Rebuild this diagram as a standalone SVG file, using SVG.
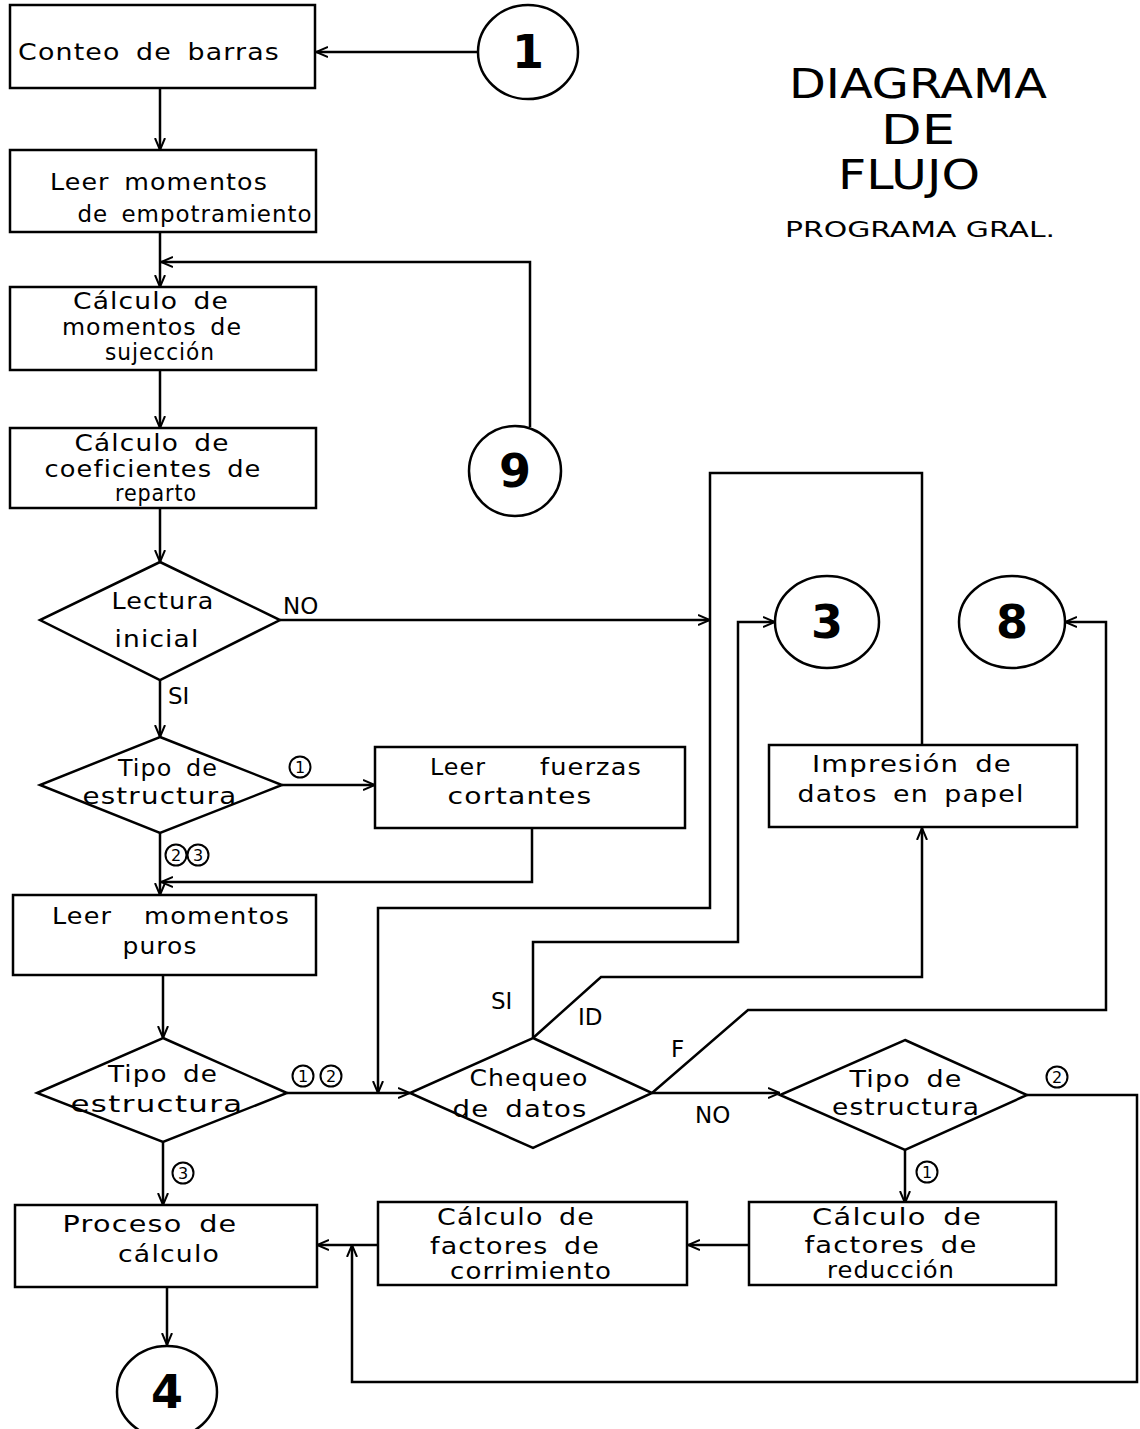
<svg xmlns="http://www.w3.org/2000/svg" width="1140" height="1429" viewBox="0 0 1140 1429">
<style>
.box{fill:#fff;stroke:#000;stroke-width:2.5}
.t{font-family:"DejaVu Sans","Liberation Sans",sans-serif;font-size:23px;fill:#000;text-anchor:middle;letter-spacing:1px;word-spacing:5px}
.lb{font-family:"DejaVu Sans","Liberation Sans",sans-serif;font-size:23px;fill:#000}
.num{font-family:"DejaVu Sans","Liberation Sans",sans-serif;font-size:46px;font-weight:bold;fill:#000;text-anchor:middle}
.cn{fill:none;stroke:#000;stroke-width:2}
.cd{font-family:"DejaVu Sans","Liberation Sans",sans-serif;font-size:16px;fill:#000;text-anchor:middle}
.ln{fill:none;stroke:#000;stroke-width:2.5;stroke-linejoin:miter}
.title{font-family:"DejaVu Sans","Liberation Sans",sans-serif;fill:#000;text-anchor:middle}
</style>
<defs>
<marker id="arr" viewBox="0 0 12 12" refX="12" refY="6" markerWidth="12" markerHeight="12" markerUnits="userSpaceOnUse" orient="auto">
<path d="M0,1 L12,6 L0,11" fill="none" stroke="#000" stroke-width="2"/>
</marker>
</defs>
<rect width="1140" height="1429" fill="#fff"/>

<g id="connectors">
<path class="ln" d="M478,52 L316,52" marker-end="url(#arr)"/>
<path class="ln" d="M160,88 L160,150" marker-end="url(#arr)"/>
<path class="ln" d="M160,232 L160,287" marker-end="url(#arr)"/>
<path class="ln" d="M530,427 L530,262 L161,262" marker-end="url(#arr)"/>
<path class="ln" d="M160,370 L160,428" marker-end="url(#arr)"/>
<path class="ln" d="M160,508 L160,562" marker-end="url(#arr)"/>
<path class="ln" d="M280,620 L710,620" marker-end="url(#arr)"/>
<path class="ln" d="M160,680 L160,737" marker-end="url(#arr)"/>
<path class="ln" d="M282,785 L375,785" marker-end="url(#arr)"/>
<path class="ln" d="M160,833 L160,895" marker-end="url(#arr)"/>
<path class="ln" d="M532,828 L532,882 L161,882" marker-end="url(#arr)"/>
<path class="ln" d="M163,975 L163,1038" marker-end="url(#arr)"/>
<path class="ln" d="M287,1093 L410,1093" marker-end="url(#arr)"/>
<path class="ln" d="M163,1142 L163,1205" marker-end="url(#arr)"/>
<path class="ln" d="M167,1287 L167,1345" marker-end="url(#arr)"/>
<path class="ln" d="M922,745 L922,473 L710,473 L710,908 L378,908 L378,1093" marker-end="url(#arr)"/>
<path class="ln" d="M533,1038 L533,942 L738,942 L738,622 L775,622" marker-end="url(#arr)"/>
<path class="ln" d="M533,1038 L601,977 L922,977 L922,828" marker-end="url(#arr)"/>
<path class="ln" d="M652,1093 L748,1010 L1106,1010 L1106,622 L1065,622" marker-end="url(#arr)"/>
<path class="ln" d="M652,1093 L780,1093" marker-end="url(#arr)"/>
<path class="ln" d="M905,1150 L905,1203" marker-end="url(#arr)"/>
<path class="ln" d="M1027,1095 L1137,1095 L1137,1382 L352,1382 L352,1245" marker-end="url(#arr)"/>
<path class="ln" d="M749,1245 L688,1245" marker-end="url(#arr)"/>
<path class="ln" d="M378,1245 L317,1245" marker-end="url(#arr)"/>
<!-- labels -->
<text class="lb" x="283" y="614">NO</text>
<text class="lb" x="168" y="704">SI</text>
<text class="lb" x="491" y="1009">SI</text>
<text class="lb" x="578" y="1025">ID</text>
<text class="lb" x="671" y="1057">F</text>
<text class="lb" x="695" y="1123">NO</text>
<circle class="cn" cx="300" cy="767" r="10.5"/><text class="cd" x="300" y="773">1</text>
<circle class="cn" cx="176" cy="855" r="10.5"/><text class="cd" x="176" y="861">2</text>
<circle class="cn" cx="198" cy="855" r="10.5"/><text class="cd" x="198" y="861">3</text>
<circle class="cn" cx="303" cy="1076" r="10.5"/><text class="cd" x="303" y="1082">1</text>
<circle class="cn" cx="331" cy="1076" r="10.5"/><text class="cd" x="331" y="1082">2</text>
<circle class="cn" cx="183" cy="1173" r="10.5"/><text class="cd" x="183" y="1179">3</text>
<circle class="cn" cx="1057" cy="1077" r="10.5"/><text class="cd" x="1057" y="1083">2</text>
<circle class="cn" cx="927" cy="1172" r="10.5"/><text class="cd" x="927" y="1178">1</text>
</g>

<g id="title">
<text class="title" x="918" y="98" font-size="40" textLength="258" lengthAdjust="spacingAndGlyphs">DIAGRAMA</text>
<text class="title" x="918" y="144" font-size="40" textLength="74" lengthAdjust="spacingAndGlyphs">DE</text>
<text class="title" x="909" y="189" font-size="40" textLength="142" lengthAdjust="spacingAndGlyphs">FLUJO</text>
<text class="title" x="920" y="237" font-size="21" textLength="270" lengthAdjust="spacingAndGlyphs">PROGRAMA GRAL.</text>
</g>

<g id="c1"><ellipse class="box" cx="528" cy="52" rx="50" ry="47"/><text class="num" x="528" y="68">1</text></g>
<g id="c9"><ellipse class="box" cx="515" cy="471" rx="46" ry="45"/><text class="num" x="515" y="487">9</text></g>
<g id="c3"><ellipse class="box" cx="827" cy="622" rx="52" ry="46"/><text class="num" x="827" y="638">3</text></g>
<g id="c8"><ellipse class="box" cx="1012" cy="622" rx="53" ry="46"/><text class="num" x="1012" y="638">8</text></g>
<g id="c4"><ellipse class="box" cx="167" cy="1392" rx="50" ry="46"/><text class="num" x="167" y="1408">4</text></g>

<g id="conteo"><rect class="box" x="10" y="5" width="305" height="83"/>
<text class="t" x="149" y="60" textLength="262" lengthAdjust="spacingAndGlyphs">Conteo de barras</text></g>

<g id="leer-emp"><rect class="box" x="10" y="150" width="306" height="82"/>
<text class="t" x="159" y="190" textLength="218" lengthAdjust="spacingAndGlyphs">Leer momentos</text>
<text class="t" x="195" y="222" textLength="235" lengthAdjust="spacingAndGlyphs">de empotramiento</text></g>

<g id="calc-suj"><rect class="box" x="10" y="287" width="306" height="83"/>
<text class="t" x="151" y="309" textLength="156" lengthAdjust="spacingAndGlyphs">Cálculo de</text>
<text class="t" x="152" y="335" textLength="180" lengthAdjust="spacingAndGlyphs">momentos de</text>
<text class="t" x="160" y="360" textLength="110" lengthAdjust="spacingAndGlyphs">sujección</text></g>

<g id="calc-coef"><rect class="box" x="10" y="428" width="306" height="80"/>
<text class="t" x="152" y="451" textLength="155" lengthAdjust="spacingAndGlyphs">Cálculo de</text>
<text class="t" x="153" y="477" textLength="217" lengthAdjust="spacingAndGlyphs">coeficientes de</text>
<text class="t" x="156" y="501" textLength="82" lengthAdjust="spacingAndGlyphs">reparto</text></g>

<g id="lectura"><polygon class="box" points="160,562 280,620 160,680 40,620"/>
<text class="t" x="163" y="609" textLength="103" lengthAdjust="spacingAndGlyphs">Lectura</text>
<text class="t" x="157" y="647" textLength="85" lengthAdjust="spacingAndGlyphs">inicial</text></g>

<g id="tipo1"><polygon class="box" points="160,737 282,785 160,833 40,785"/>
<text class="t" x="168" y="776" textLength="100" lengthAdjust="spacingAndGlyphs">Tipo de</text>
<text class="t" x="160" y="804" textLength="155" lengthAdjust="spacingAndGlyphs">estructura</text></g>

<g id="fuerzas"><rect class="box" x="375" y="747" width="310" height="81"/>
<text class="t" x="458" y="775" textLength="56" lengthAdjust="spacingAndGlyphs">Leer</text>
<text class="t" x="591" y="775" textLength="102" lengthAdjust="spacingAndGlyphs">fuerzas</text>
<text class="t" x="520" y="804" textLength="145" lengthAdjust="spacingAndGlyphs">cortantes</text></g>

<g id="puros"><rect class="box" x="13" y="895" width="303" height="80"/>
<text class="t" x="82" y="924" textLength="60" lengthAdjust="spacingAndGlyphs">Leer</text>
<text class="t" x="217" y="924" textLength="146" lengthAdjust="spacingAndGlyphs">momentos</text>
<text class="t" x="160" y="954" textLength="75" lengthAdjust="spacingAndGlyphs">puros</text></g>

<g id="tipo2"><polygon class="box" points="163,1038 287,1093 163,1142 37,1093"/>
<text class="t" x="163" y="1082" textLength="110" lengthAdjust="spacingAndGlyphs">Tipo de</text>
<text class="t" x="157" y="1112" textLength="173" lengthAdjust="spacingAndGlyphs">estructura</text></g>

<g id="proceso"><rect class="box" x="15" y="1205" width="302" height="82"/>
<text class="t" x="150" y="1232" textLength="175" lengthAdjust="spacingAndGlyphs">Proceso de</text>
<text class="t" x="169" y="1262" textLength="102" lengthAdjust="spacingAndGlyphs">cálculo</text></g>

<g id="chequeo"><polygon class="box" points="533,1038 652,1093 533,1148 410,1093"/>
<text class="t" x="529" y="1086" textLength="119" lengthAdjust="spacingAndGlyphs">Chequeo</text>
<text class="t" x="520" y="1117" textLength="135" lengthAdjust="spacingAndGlyphs">de datos</text></g>

<g id="tipo3"><polygon class="box" points="905,1040 1027,1095 905,1150 780,1095"/>
<text class="t" x="906" y="1087" textLength="113" lengthAdjust="spacingAndGlyphs">Tipo de</text>
<text class="t" x="906" y="1115" textLength="148" lengthAdjust="spacingAndGlyphs">estructura</text></g>

<g id="impresion"><rect class="box" x="769" y="745" width="308" height="82"/>
<text class="t" x="912" y="772" textLength="200" lengthAdjust="spacingAndGlyphs">Impresión de</text>
<text class="t" x="911" y="802" textLength="227" lengthAdjust="spacingAndGlyphs">datos en papel</text></g>

<g id="corrimiento"><rect class="box" x="378" y="1202" width="309" height="83"/>
<text class="t" x="516" y="1225" textLength="158" lengthAdjust="spacingAndGlyphs">Cálculo de</text>
<text class="t" x="515" y="1254" textLength="170" lengthAdjust="spacingAndGlyphs">factores de</text>
<text class="t" x="531" y="1279" textLength="162" lengthAdjust="spacingAndGlyphs">corrimiento</text></g>

<g id="reduccion"><rect class="box" x="749" y="1202" width="307" height="83"/>
<text class="t" x="897" y="1225" textLength="170" lengthAdjust="spacingAndGlyphs">Cálculo de</text>
<text class="t" x="891" y="1253" textLength="173" lengthAdjust="spacingAndGlyphs">factores de</text>
<text class="t" x="891" y="1278" textLength="128" lengthAdjust="spacingAndGlyphs">reducción</text></g>
</svg>
